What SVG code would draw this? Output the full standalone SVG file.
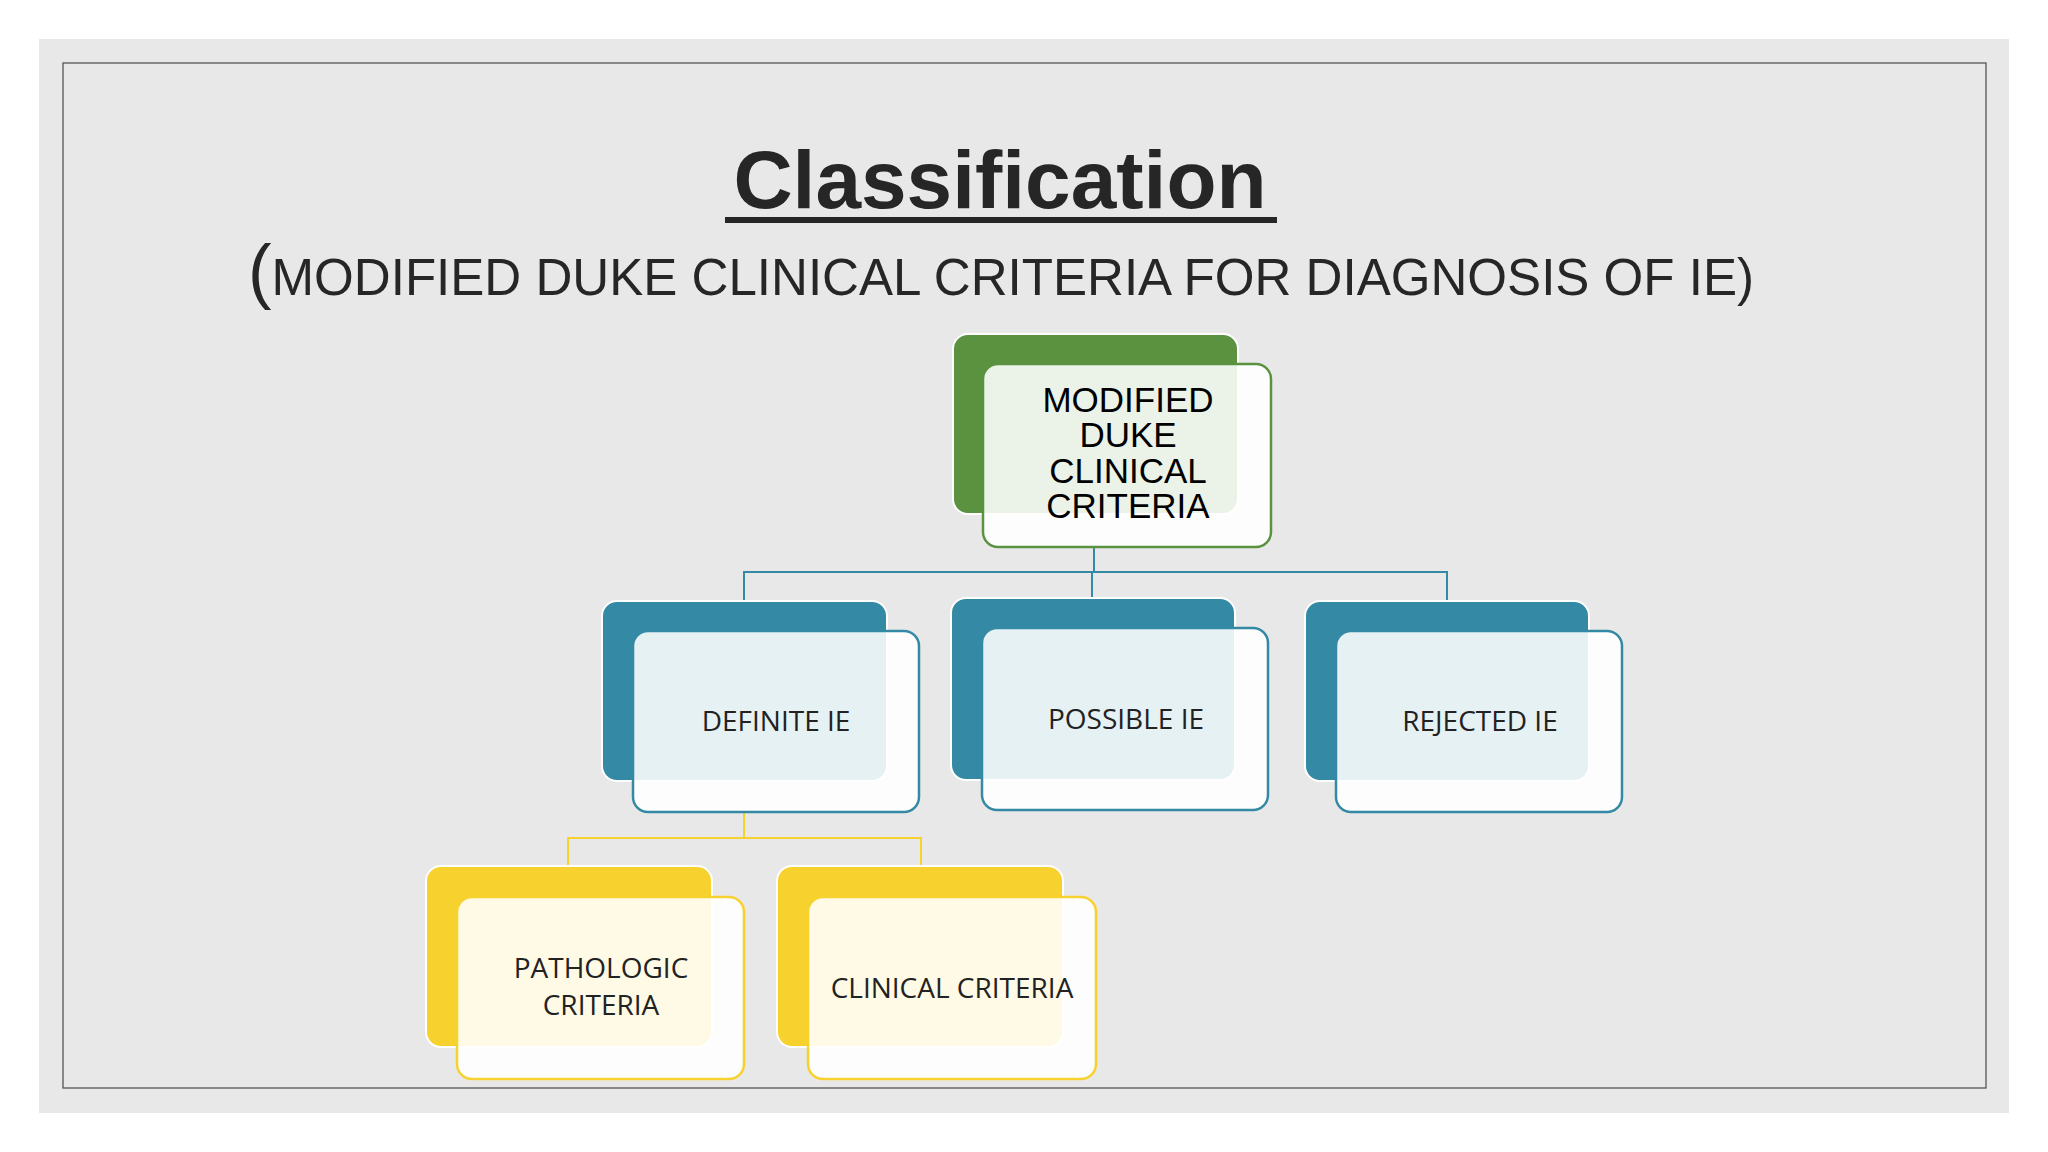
<svg xmlns="http://www.w3.org/2000/svg" width="2048" height="1152" viewBox="0 0 2048 1152">
<style>
.back{stroke:#ffffff;stroke-width:2}
.front{fill:#ffffff;fill-opacity:0.88;stroke-width:2.5}
.g .back{fill:#5a9240}.g .front{stroke:#5a9240}
.b .back{fill:#348aa5}.b .front{stroke:#348aa5}
.y .back{fill:#f7d22e}.y .front{stroke:#f7d22e}
.lbl{font-family:"Open Sans","Liberation Sans",sans-serif;font-size:28px;fill:#222;text-anchor:middle}
.top{font-family:"Liberation Sans",Arial,sans-serif;font-size:35px;fill:#000;text-anchor:middle}
</style>
<rect width="2048" height="1152" fill="#ffffff"/>
<rect x="39" y="39" width="1970" height="1074" fill="#e8e8e8"/>
<rect x="63" y="63" width="1923" height="1025" fill="none" stroke="#555" stroke-width="1.3"/>
<text x="1000" y="208" font-family="Liberation Sans,Arial,sans-serif" font-weight="bold" font-size="82" fill="#262626" text-anchor="middle">Classification</text>
<rect x="725" y="217" width="552" height="6" fill="#262626"/>
<text x="248" y="295" font-family="Liberation Sans,Arial,sans-serif" font-size="52" fill="#262626" textLength="1506" lengthAdjust="spacingAndGlyphs"><tspan font-size="72">(</tspan>MODIFIED DUKE CLINICAL CRITERIA FOR DIAGNOSIS OF IE)</text>
<g id="connectors" fill="none" stroke-width="2">
<path d="M1094 547V572M744 601V572H1447V601M1092 572V598" stroke="#348aa5"/>
<path d="M744 812V838M568 866V838H921V866" stroke="#f7d22e"/>
</g>
<g id="n-top" class="g">
<rect class="back" x="953" y="334" width="285" height="180" rx="15"/>
<rect class="front" x="983" y="364" width="288" height="183" rx="15"/>
<text class="top" x="1128" y="412">MODIFIED</text>
<text class="top" x="1128" y="447">DUKE</text>
<text class="top" x="1128" y="483">CLINICAL</text>
<text class="top" x="1128" y="518">CRITERIA</text>
</g>
<g id="n-definite" class="b">
<rect class="back" x="602" y="601" width="285" height="180" rx="15"/>
<rect class="front" x="633" y="631" width="286" height="181" rx="15"/>
<text class="lbl" x="776" y="731">DEFINITE IE</text>
</g>
<g id="n-possible" class="b">
<rect class="back" x="951" y="598" width="284" height="182" rx="15"/>
<rect class="front" x="982" y="628" width="286" height="182" rx="15"/>
<text class="lbl" x="1126" y="729">POSSIBLE IE</text>
</g>
<g id="n-rejected" class="b">
<rect class="back" x="1305" y="601" width="284" height="180" rx="15"/>
<rect class="front" x="1336" y="631" width="286" height="181" rx="15"/>
<text class="lbl" x="1480" y="731">REJECTED IE</text>
</g>
<g id="n-pathologic" class="y">
<rect class="back" x="426" y="866" width="286" height="181" rx="15"/>
<rect class="front" x="457" y="897" width="287" height="182" rx="15"/>
<text class="lbl" x="601" y="978">PATHOLOGIC</text>
<text class="lbl" x="601" y="1015">CRITERIA</text>
</g>
<g id="n-clinical" class="y">
<rect class="back" x="777" y="866" width="286" height="181" rx="15"/>
<rect class="front" x="808" y="897" width="288" height="182" rx="15"/>
<text class="lbl" x="952" y="998">CLINICAL CRITERIA</text>
</g>
</svg>
